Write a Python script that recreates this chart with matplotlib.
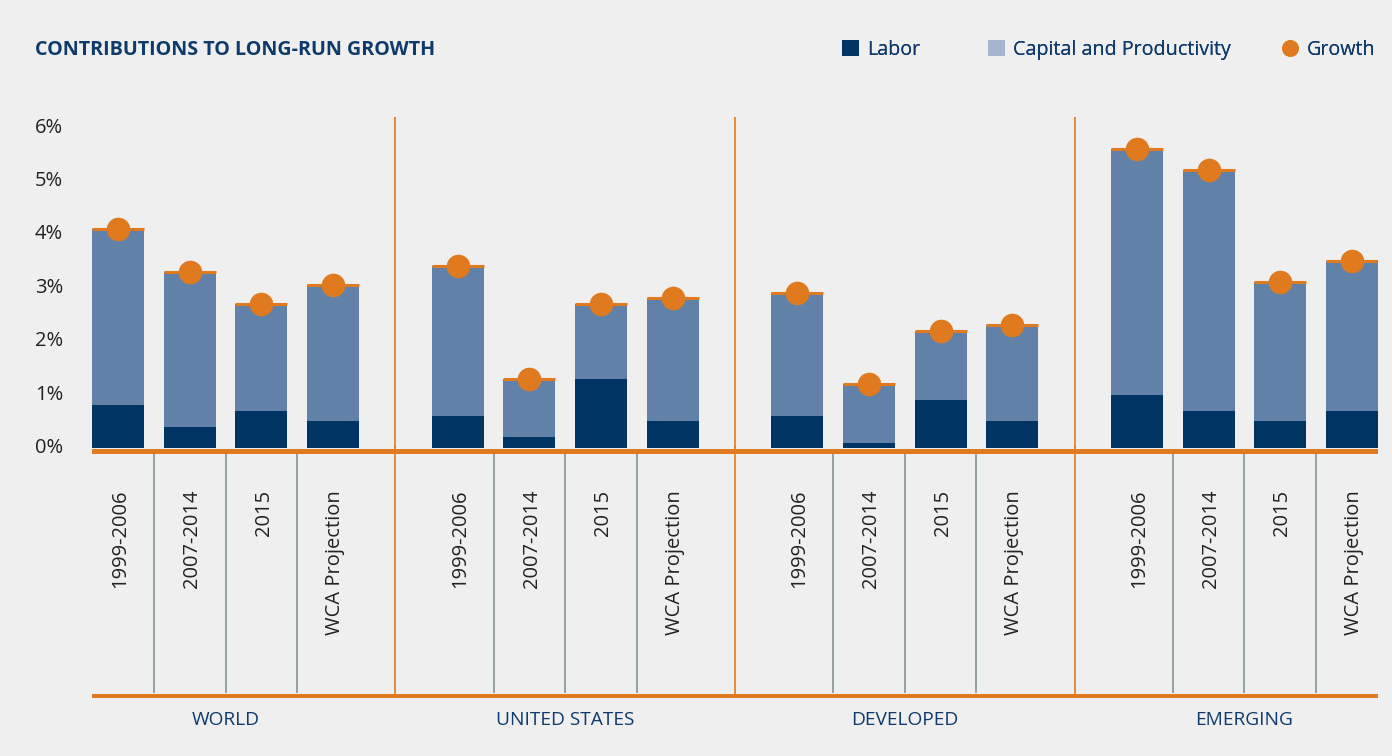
import matplotlib
matplotlib.use("Agg")
import matplotlib.pyplot as plt
import matplotlib.transforms as mtransforms
from matplotlib.lines import Line2D
from matplotlib.patches import Patch
import numpy as np

plt.rcParams['font.family'] = ['Open Sans', 'DejaVu Sans']

# ---- data ----
groups = ["WORLD", "UNITED STATES", "DEVELOPED", "EMERGING"]
periods = ["1999-2006", "2007-2014", "2015", "WCA Projection"]
labor = [
    [0.8, 0.4, 0.7, 0.5],
    [0.6, 0.2, 1.3, 0.5],
    [0.6, 0.1, 0.9, 0.5],
    [1.0, 0.7, 0.5, 0.7],
]
growth = [
    [4.1, 3.3, 2.7, 3.05],
    [3.4, 1.3, 2.7, 2.8],
    [2.9, 1.2, 2.2, 2.3],
    [5.6, 5.2, 3.1, 3.5],
]
y_ticks = [0, 1, 2, 3, 4, 5, 6]
y_tick_labels = ["0%", "1%", "2%", "3%", "4%", "5%", "6%"]

# ---- style ----
BG = "#EFEFEF"
NAVY = "#003462"
CAP = "#6181A8"
CAP_LEG = "#A5B5CF"
ORANGE = "#E07A1E"
TXT = "#0E3B6B"
GRAY = "#8E9A9E"

W, H = 1392, 756
fig = plt.figure(figsize=(W / 100, H / 100), dpi=100, facecolor=BG)

x_left, x_right = 92, 1378
y_zero, y_top = 448, 117
px_per_unit = 53.4
ax = fig.add_axes([x_left / W, 1 - y_zero / H, (x_right - x_left) / W, (y_zero - y_top) / H])
ax.set_facecolor("none")
for s in ax.spines.values():
    s.set_visible(False)
ax.set_xticks([])
ax.set_yticks([])

group_step = 4.74
bar_w = 0.727
xs = []
for g in range(len(groups)):
    xs.append([g * group_step + i for i in range(len(periods))])
xs = np.array(xs)
x_min = xs[0, 0] - 0.364
x_max = xs[-1, -1] + 0.364
ax.set_xlim(x_min, x_max)
ax.set_ylim(0, (y_zero - y_top) / px_per_unit)

lab = np.array(labor)
gro = np.array(growth)
for g in range(len(groups)):
    ax.bar(xs[g], lab[g], width=bar_w, color=NAVY, zorder=2)
    ax.bar(xs[g], gro[g] - lab[g], bottom=lab[g], width=bar_w, color=CAP, zorder=2)
    ax.hlines(gro[g], xs[g] - bar_w / 2, xs[g] + bar_w / 2, color=ORANGE, lw=2.2, zorder=3)
    ax.plot(xs[g], gro[g], "o", color=ORANGE, ms=17, mec="none", zorder=4)

# group dividers in top axes
dividers = [(xs[g - 1, -1] + xs[g, 0]) / 2 for g in range(1, len(groups))]
for d in dividers:
    ax.axvline(d, color=ORANGE, lw=1.2, zorder=1)

# y tick labels
tr = mtransforms.blended_transform_factory(fig.transFigure, ax.transData)
for v, l in zip(y_ticks, y_tick_labels):
    ax.text(35 / W, v, l, transform=tr, ha="left", va="center", fontsize=14.5, color="#222222")

# ---- lower category axes (pixel coordinates vertically) ----
ax2 = fig.add_axes([x_left / W, 1 - 698 / H, (x_right - x_left) / W, (698 - 446) / H], sharex=ax)
ax2.set_facecolor("none")
for s in ax2.spines.values():
    s.set_visible(False)
ax2.set_ylim(698, 446)
ax2.tick_params(left=False, bottom=False, labelleft=False, labelbottom=False)

ax2.axhline(450.5, color=ORANGE, lw=3.6, zorder=3)
ax2.axhline(695.5, color=ORANGE, lw=3.6, zorder=3)
for g in range(len(groups)):
    for i in range(len(periods) - 1):
        xm = (xs[g, i] + xs[g, i + 1]) / 2
        ax2.vlines(xm, 453, 693, color=GRAY, lw=1.3, zorder=1)
    for i, p in enumerate(periods):
        ax2.text(xs[g, i] + 0.03, 490, p, rotation=90, ha="center", va="top",
                 fontsize=14.5, color="#222222")
    ax2.text(xs[g].mean(), 720, groups[g], ha="center", va="center",
             fontsize=13.8, color=TXT, clip_on=False)
for d in dividers:
    ax2.vlines(d, 446, 695, color=ORANGE, lw=1.2, zorder=1)

# ---- title ----
fig.text(35 / W, 1 - 50 / H, "CONTRIBUTIONS TO LONG-RUN GROWTH", ha="left", va="center",
         fontsize=14.2, fontweight="bold", color=TXT)

# ---- legend ----
leg_items = [
    (Patch(facecolor=NAVY, edgecolor="none"), "Labor", 842),
    (Patch(facecolor=CAP_LEG, edgecolor="none"), "Capital and Productivity", 988),
    (Line2D([], [], marker="o", ls="none", color=ORANGE, ms=12, mec="none"), "Growth", 1282),
]
for h, lbl, xp in leg_items:
    lg = fig.legend([h], [lbl], loc="center left", bbox_to_anchor=(xp / W, 1 - 50 / H),
                    frameon=False, fontsize=14.2, handlelength=0.85, handleheight=0.85,
                    handletextpad=0.4, borderpad=0, borderaxespad=0)
    for t in lg.get_texts():
        t.set_color(TXT)
    fig.add_artist(lg)

fig.savefig("out.png", dpi=100, facecolor=BG)
